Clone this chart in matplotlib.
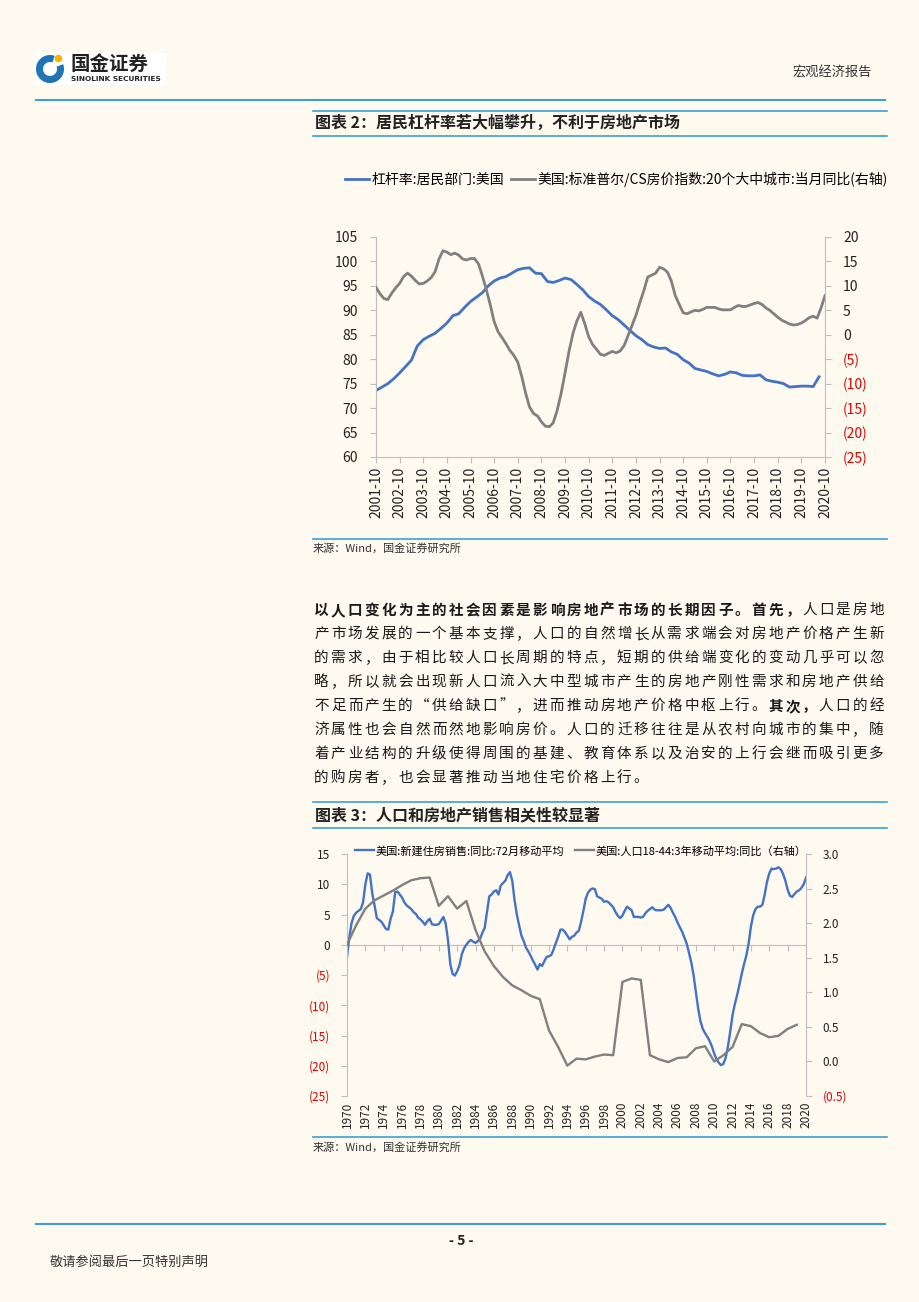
import matplotlib
matplotlib.use('Agg')
import matplotlib.pyplot as plt
from matplotlib.lines import Line2D
from matplotlib.patches import Rectangle, Wedge, Circle
import numpy as np
import pandas as pd

plt.rcParams['font.family'] = ['Noto Sans CJK SC', 'DejaVu Sans']
plt.rcParams['axes.unicode_minus'] = False

W, H = 920, 1302
BG = '#fefaf0'
BLUE = '#4472c4'
GREY = '#808080'
RED = '#e00000'
RULE = '#3d9fd6'
SPINE = '#bfbfbf'
INK = '#222222'

# ---- 图表2: 居民杠杆率 (季度) vs CS房价同比 (双月取样), 起点 2001-10
lev_start = '2001-10-01'
leverage = [73.6, 74.3, 75.0, 76.0, 77.2, 78.5, 79.8, 82.7, 84.0, 84.7,
            85.3, 86.3, 87.4, 88.9, 89.3, 90.6, 91.8, 92.7, 93.6, 95.0,
            96.0, 96.6, 96.9, 97.6, 98.3, 98.6, 98.7, 97.6, 97.5, 95.9,
            95.7, 96.1, 96.6, 96.3, 95.3, 94.2, 92.8, 91.9, 91.2, 90.1,
            88.9, 88.1, 87.0, 85.9, 84.8, 84.0, 83.0, 82.5, 82.2, 82.3,
            81.5, 81.0, 79.9, 79.2, 78.1, 77.8, 77.5, 77.0, 76.6, 76.9,
            77.4, 77.2, 76.7, 76.6, 76.6, 76.8, 75.8, 75.5, 75.3, 75.0,
            74.3, 74.4, 74.5, 74.5, 74.4, 76.4]
cs_hpi = [9.7, 8.4, 7.4, 7.2, 8.5, 9.6,
          10.5, 11.9, 12.6, 12.0, 11.1, 10.4,
          10.5, 11.0, 11.7, 12.9, 15.5, 17.2,
          16.9, 16.4, 16.7, 16.3, 15.5, 15.3,
          15.6, 15.6, 14.5, 12.1, 9.3, 6.2,
          2.7, 0.6, -0.6, -1.8, -3.2, -4.2,
          -5.6, -8.5, -12.0, -14.8, -16.1, -16.6,
          -17.8, -18.7, -18.8, -18.0, -15.5, -12.0,
          -7.8, -3.4, 0.3, 2.8, 4.6, 2.3,
          -0.4, -2.0, -3.0, -4.0, -4.2, -3.8,
          -3.4, -3.7, -3.3, -2.2, -0.2, 1.9,
          4.0, 6.6, 9.1, 11.8, 12.2, 12.6,
          13.8, 13.5, 12.8, 11.0, 8.0, 6.2,
          4.5, 4.3, 4.7, 5.0, 4.9, 5.2,
          5.6, 5.6, 5.6, 5.3, 5.1, 5.1,
          5.1, 5.6, 6.0, 5.8, 5.8, 6.1,
          6.4, 6.6, 6.2, 5.5, 5.0, 4.3,
          3.6, 3.0, 2.6, 2.2, 2.0, 2.1,
          2.4, 2.9, 3.5, 3.8, 3.4, 5.5,
          8.0]
lev_label = '杠杆率:居民部门:美国'
hpi_label = '美国:标准普尔/CS房价指数:20个大中城市:当月同比(右轴)'

# ---- 图表3: 新建住房销售同比72月移动平均 (季度, 1970起) vs 人口18-44同比 (年度)
sales = [-2.0, 1.2, 3.6, 4.8,   5.3, 5.6, 5.9, 7.0,   10.0, 11.8, 11.6, 8.5,
         6.5, 4.4, 4.1, 3.8,    3.2, 2.6, 2.5, 4.3,   5.5, 8.7, 8.8, 8.3,
         7.8, 7.0, 6.5, 6.2,    5.9, 5.4, 5.1, 4.5,   4.2, 3.8, 3.3, 3.9,
         4.3, 3.4, 3.3, 3.3,    3.4, 4.0, 4.6, 3.5,   0.8, -3.2, -4.8, -5.1,
         -4.4, -3.4, -1.6, -0.6, 0.0, 0.5, 0.8, 0.5,  0.3, 0.6, 1.0, 2.0,
         2.8, 5.4, 8.0, 8.3,    8.8, 9.0, 8.3, 9.8,   10.2, 10.6, 11.5, 12.0,
         10.6, 7.4, 5.0, 3.2,   1.5, 0.6, -0.5, -1.1, -1.8, -2.6, -3.3, -4.1,
         -3.2, -3.5, -2.7, -2.0, -1.9, -1.7, -0.8, 0.3, 1.3, 2.5, 2.5, 2.1,
         1.5, 0.9, 1.3, 1.5,    2.0, 2.3, 3.8, 5.6,   7.6, 8.6, 9.1, 9.3,
         9.2, 8.0, 7.8, 7.6,    7.1, 7.2, 7.0, 6.6,   6.2, 5.4, 4.8, 4.4,
         4.8, 5.6, 6.3, 6.0,    5.7, 4.6, 4.6, 4.6,   4.5, 4.6, 5.2, 5.6,
         5.9, 6.2, 5.8, 5.7,    5.7, 5.7, 5.8, 6.2,   6.6, 6.1, 5.3, 4.6,
         3.7, 2.9, 2.2, 1.2,    0.2, -1.3, -2.9, -5.0, -7.8, -10.5, -12.6, -13.9,
         -14.6, -15.2, -15.9, -16.8, -18.0, -18.9, -19.5, -19.9,
         -19.7, -18.7, -16.8, -14.3, -11.6, -9.8, -8.3, -6.6,
         -4.8, -3.2, -1.8, 0.2, 3.0, 4.9, 5.9, 6.3,   6.3, 6.6, 8.3, 10.4,
         11.8, 12.6, 12.5, 12.6, 12.8, 12.5, 11.7, 10.6, 9.1, 8.1, 7.9, 8.4,
         8.8, 9.0, 9.4, 10.0,   11.1]
pop = [1.69, 1.97, 2.21, 2.33, 2.40, 2.47, 2.55, 2.62, 2.65, 2.66,
       2.25, 2.39, 2.21, 2.32, 1.90, 1.59, 1.38, 1.22, 1.10, 1.03,
       0.95, 0.90, 0.45, 0.21, -0.06, 0.04, 0.03, 0.07, 0.10, 0.09,
       1.15, 1.20, 1.18, 0.09, 0.03, -0.01, 0.05, 0.06, 0.19, 0.22,
       0.00, 0.09, 0.21, 0.54, 0.51, 0.41, 0.35, 0.37, 0.47, 0.53]
sales_label = '美国:新建住房销售:同比:72月移动平均'
pop_label = '美国:人口18-44:3年移动平均:同比（右轴）'

para = ['以人口变化为主的社会因素是影响房地产市场的长期因子。首先，人口是房地',
        '产市场发展的一个基本支撑，人口的自然增长从需求端会对房地产价格产生新',
        '的需求，由于相比较人口长周期的特点，短期的供给端变化的变动几乎可以忽',
        '略，所以就会出现新人口流入大中型城市产生的房地产刚性需求和房地产供给',
        '不足而产生的“供给缺口”，进而推动房地产价格中枢上行。其次，人口的经',
        '济属性也会自然而然地影响房价。人口的迁移往往是从农村向城市的集中，随',
        '着产业结构的升级使得周围的基建、教育体系以及治安的上行会继而吸引更多',
        '的购房者，也会显著推动当地住宅价格上行。']
bold_chars = {0: range(0, 29), 4: range(27, 30)}


def fx(x):
    return x / W


def fy(y):
    return 1 - y / H


def box(x0, y0, x1, y1):
    return [fx(x0), fy(y1), (x1 - x0) / W, (y1 - y0) / H]


def rule(y, x0, x1, lw=1.2):
    fig.add_artist(Line2D([fx(x0), fx(x1)], [fy(y), fy(y)],
                          transform=fig.transFigure, color=RULE, lw=lw))


def paren(v, fmt):
    return '(' + fmt.format(abs(v)) + ')' if v < 0 else fmt.format(v)


def style_pair(ax, axr, size, pad_l, pad_r):
    for a in (ax, axr):
        a.set_facecolor('none')
        for s in a.spines.values():
            s.set_color(SPINE)
        a.spines['top'].set_visible(False)
    ax.spines['right'].set_visible(False)
    for s in ('left', 'bottom'):
        axr.spines[s].set_visible(False)
    ax.tick_params(axis='y', length=4, color=SPINE, labelsize=size,
                   labelcolor=INK, pad=pad_l)
    axr.tick_params(axis='y', length=4, color=SPINE, labelsize=size,
                    labelcolor=INK, pad=pad_r)


fig = plt.figure(figsize=(W / 100, H / 100), dpi=100, facecolor=BG)

# ---- header
lg = fig.add_axes(box(34, 52, 168, 86))
lg.set_xlim(34, 168)
lg.set_ylim(86, 52)
lg.axis('off')
lg.add_patch(Rectangle((34, 53), 133, 32, color='white', lw=0))
lg.add_patch(Wedge((50, 69), 14, -20, 290, width=7, color='#1f73b7', lw=0))
lg.add_patch(Circle((58.5, 58.5), 3.8, color='#f5b400', lw=0))
lg.text(71, 64, '国金证券', fontsize=14, weight='bold', color=INK, va='center')
lg.text(71, 79, 'SINOLINK SECURITIES', fontsize=5.3, weight='bold',
        color=INK, va='center', family='DejaVu Sans')
fig.text(fx(872), fy(73), '宏观经济报告', fontsize=9.5, color='#333333',
         ha='right', va='center')
rule(100, 36, 885, lw=1.5)

# ---- 图表2 title
rule(111, 313, 887)
rule(136, 313, 887)
fig.text(fx(315), fy(123), '图表 2：居民杠杆率若大幅攀升，不利于房地产市场',
         fontsize=11.5, weight='bold', color=INK, va='center')

ax1 = fig.add_axes(box(376, 237, 825, 457))
ax1r = ax1.twinx()
d_lev = pd.date_range(lev_start, periods=len(leverage), freq='3MS')
d_hpi = pd.date_range(lev_start, periods=len(cs_hpi), freq='2MS')
l1, = ax1.plot(d_lev, leverage, color=BLUE, lw=2.0, label=lev_label)
l2, = ax1r.plot(d_hpi, cs_hpi, color=GREY, lw=2.0, label=hpi_label)
ax1.set_ylim(60, 105)
ax1r.set_ylim(-25, 20)
ax1.set_yticks(np.arange(60, 106, 5))
rt1 = np.arange(-25, 21, 5)
ax1r.set_yticks(rt1)
ax1r.set_yticklabels([paren(v, '{:g}') for v in rt1])
xt1 = pd.date_range('2001-10-01', '2020-10-01', freq='12MS')
ax1.set_xlim(xt1[0], xt1[-1])
ax1.set_xticks(xt1)
ax1.set_xticklabels([d.strftime('%Y-%m') for d in xt1], rotation=90)
style_pair(ax1, ax1r, 10, 9, 9)
ax1.tick_params(axis='x', length=4, color=SPINE, labelsize=10,
                labelcolor=INK, pad=3)
for lab, v in zip(ax1r.get_yticklabels(), rt1):
    lab.set_color(RED if v < 0 else INK)
ax1.legend(handles=[l1, l2], loc='center left', ncol=2, frameon=False,
           bbox_to_anchor=(fx(345), fy(179)), bbox_transform=fig.transFigure,
           fontsize=10, handlelength=1.7, handletextpad=0.2,
           columnspacing=0.5, borderpad=0, borderaxespad=0)

rule(539, 313, 887)
fig.text(fx(313), fy(548), '来源：Wind，国金证券研究所', fontsize=8,
         color='#333333', va='center')

# ---- paragraph, justified one character per cell
pitch = (885 - 313) / 34
for i, line in enumerate(para):
    yy = 610 + 24 * i
    for j, ch in enumerate(line):
        bold = j in bold_chars.get(i, ())
        fig.text(fx(313 + (j + 0.5) * pitch), fy(yy), ch, fontsize=10.5,
                 ha='center', va='center', color='#1a1a1a',
                 weight='bold' if bold else 'normal')

# ---- 图表3 title
rule(802, 313, 887)
rule(828, 313, 887)
fig.text(fx(315), fy(815), '图表 3：人口和房地产销售相关性较显著',
         fontsize=11.5, weight='bold', color=INK, va='center')

ax2 = fig.add_axes(box(347, 854, 806, 1096))
ax2r = ax2.twinx()
yr_q = 1970 + np.arange(len(sales)) / 4
yr_a = 1970 + np.arange(len(pop))
m1, = ax2.plot(yr_q, sales, color=BLUE, lw=1.7, label=sales_label)
m2, = ax2r.plot(yr_a, pop, color=GREY, lw=1.7, label=pop_label)
ax2.set_ylim(-25, 15)
ax2r.set_ylim(-0.5, 3.0)
lt2 = np.arange(-25, 16, 5)
ax2.set_yticks(lt2)
ax2.set_yticklabels([paren(v, '{:g}') for v in lt2])
rt2 = np.arange(-0.5, 3.01, 0.5)
ax2r.set_yticks(rt2)
ax2r.set_yticklabels([paren(v, '{:.1f}') for v in rt2])
xt2 = np.arange(1970, 2021, 2)
ax2.set_xlim(1970, 2020)
ax2.set_xticks(xt2)
ax2.set_xticklabels([str(v) for v in xt2], rotation=90)
style_pair(ax2, ax2r, 8.5, 8, 8)
ax2.spines['bottom'].set_visible(False)
ax2.tick_params(axis='x', length=0, labelsize=8.5, labelcolor=INK, pad=4)
for lab, v in zip(ax2.get_yticklabels(), lt2):
    lab.set_color(RED if v < 0 else INK)
for lab, v in zip(ax2r.get_yticklabels(), rt2):
    lab.set_color(RED if v < 0 else INK)
zero = ax2.secondary_xaxis(25 / 40)
zero.set_alignment('bottom')
zero.set_xticks(xt2)
zero.tick_params(length=4, color=SPINE, labelbottom=False)
zero.spines['bottom'].set_color(SPINE)
ax2.legend(handles=[m1, m2], loc='center left', ncol=2, frameon=False,
           bbox_to_anchor=(fx(355), fy(851)), bbox_transform=fig.transFigure,
           fontsize=8, handlelength=1.7, handletextpad=0.15,
           columnspacing=1.0, borderpad=0, borderaxespad=0)

rule(1137, 313, 887)
fig.text(fx(313), fy(1147), '来源：Wind，国金证券研究所', fontsize=8,
         color='#333333', va='center')

# ---- footer
rule(1224, 36, 885, lw=1.5)
fig.text(fx(461), fy(1241), '- 5 -', fontsize=10, weight='bold', color=INK,
         ha='center', va='center')
fig.text(fx(50), fy(1262), '敬请参阅最后一页特别声明', fontsize=9.5,
         color='#333333', va='center')

fig.savefig('out.png', dpi=100, facecolor=BG)
